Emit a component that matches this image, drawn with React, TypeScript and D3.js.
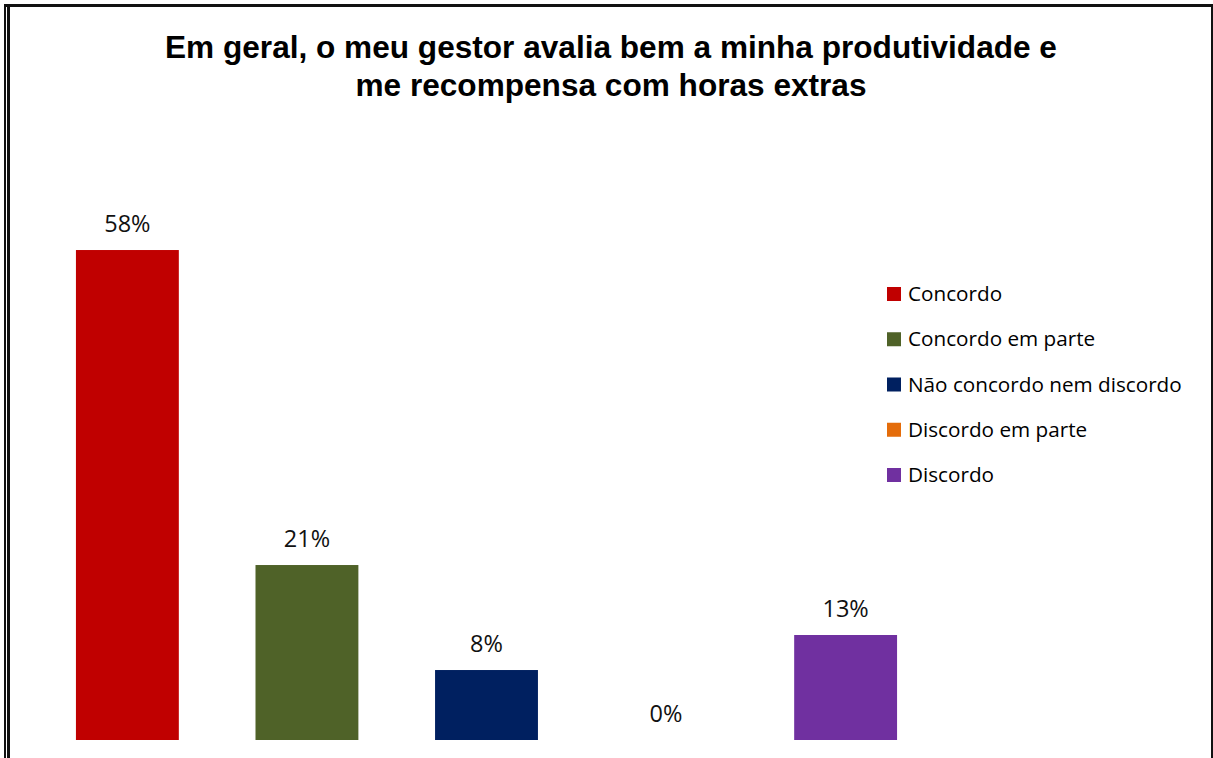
import React from "react";
import * as d3 from "d3";

const titleLines = [
  "Em geral, o meu gestor avalia bem a minha produtividade e",
  "me recompensa com horas extras",
];
const categories = [
  "Concordo",
  "Concordo em parte",
  "Não concordo nem discordo",
  "Discordo em parte",
  "Discordo",
];
const values = [58.33, 20.83, 8.33, 0, 12.5];
const colors = ["#C00000", "#4F6228", "#002060", "#E46C0A", "#7030A0"];

const W = 1213;
const H = 758;
const baseY = 740;

export default function App() {
  const x = d3
    .scaleBand<string>()
    .domain(categories)
    .range([37.6, 935.4])
    .paddingInner(0.427)
    .paddingOuter(0.2135);
  const y = d3.scaleLinear().domain([0, 70]).range([baseY, baseY - 588]);
  const legendY = d3
    .scalePoint<string>()
    .domain(categories)
    .range([294, 475]);

  const labelFont = "'Open Sans', 'Noto Sans', sans-serif";
  return (
    <svg
      width={W}
      height={H}
      style={{ position: "absolute", left: 0, top: 0, display: "block", background: "#fff" }}
    >
      <rect x={0} y={0} width={W} height={H} fill="#fff" />
      {/* frame */}
      <rect x={4} y={4} width={W - 4} height={3} fill="#111" />
      <rect x={4} y={4} width={2} height={H - 4} fill="#111" />
      <rect x={7} y={7} width={3} height={H - 7} fill="#111" />
      <rect x={1211} y={4} width={2} height={H - 4} fill="#111" />

      {/* title */}
      {titleLines.map((t, i) => (
        <text
          key={i}
          x={611}
          y={57.5 + i * 38}
          textAnchor="middle"
          fontFamily="'Liberation Sans', Arial, sans-serif"
          fontWeight="bold"
          fontSize={31.6}
          fill="#000"
        >
          {t}
        </text>
      ))}

      {/* bars */}
      {categories.map((c, i) => (
        <g key={c}>
          <rect
            x={x(c)}
            y={y(values[i])}
            width={x.bandwidth()}
            height={baseY - y(values[i])}
            fill={colors[i]}
          />
          <text
            x={(x(c) as number) + x.bandwidth() / 2}
            y={y(values[i]) - 18}
            textAnchor="middle"
            fontFamily={labelFont}
            fontSize={23.5}
            fill="#111"
          >
            {Math.round(values[i]) + "%"}
          </text>
        </g>
      ))}

      {/* legend */}
      {categories.map((c, i) => (
        <g key={"lg" + c}>
          <rect x={887} y={(legendY(c) as number) - 7} width={14} height={14} fill={colors[i]} />
          <text
            x={908}
            y={(legendY(c) as number) + 7}
            fontFamily={labelFont}
            fontSize={20.7}
            fill="#000"
          >
            {c}
          </text>
        </g>
      ))}
    </svg>
  );
}
